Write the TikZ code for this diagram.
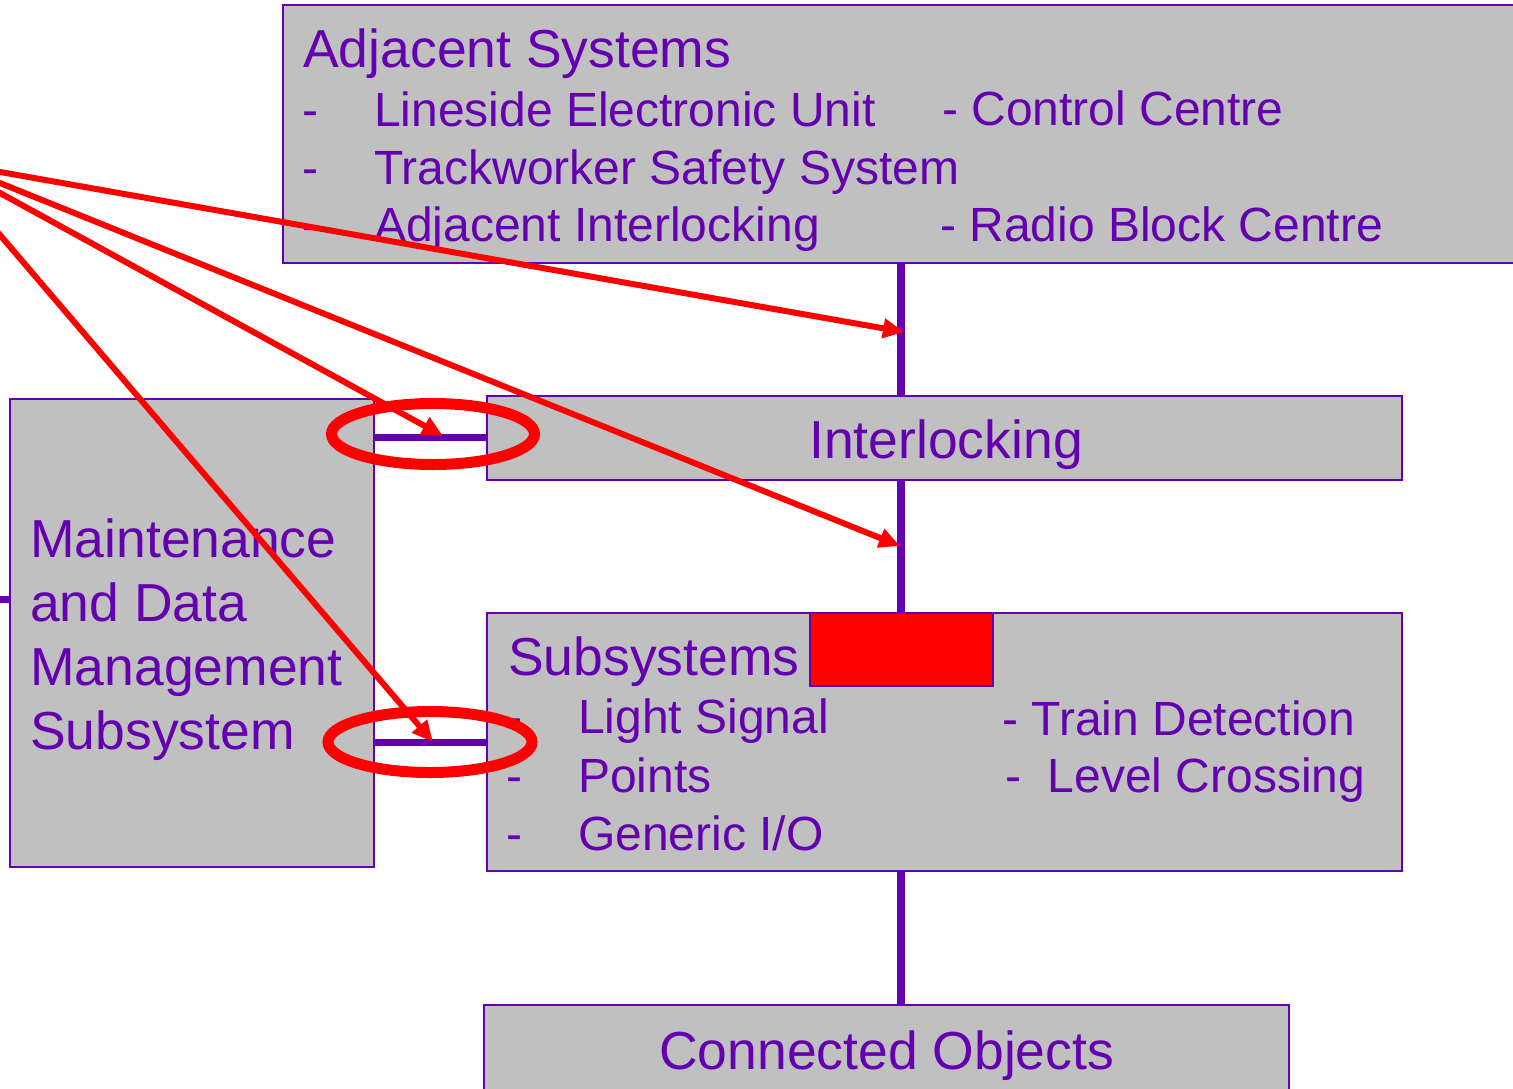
\documentclass[tikz,border=0pt]{standalone}
\usepackage{fontspec}
\setmainfont{Liberation Sans}
\usetikzlibrary{arrows.meta,shapes.geometric}
\definecolor{ink}{RGB}{100,0,175}
\definecolor{panel}{RGB}{192,192,192}
\definecolor{alert}{RGB}{255,0,0}
\begin{document}
\begin{tikzpicture}[x=1pt,y=-1pt,
  box/.style={draw=ink, fill=panel, line width=2.5pt, rectangle, inner sep=0pt},
  title/.style={anchor=base west, inner sep=0pt, text=ink, font=\fontsize{53.5}{64}\selectfont},
  item/.style={anchor=base west, inner sep=0pt, text=ink, font=\fontsize{48}{58}\selectfont},
  trunk/.style={draw=ink, line width=8pt},
  link/.style={draw=ink, line width=7pt},
  ring/.style={draw=alert, line width=11pt, ellipse, inner sep=0pt},
  pointer/.style={draw=alert, line width=6pt, -{Triangle[length=21pt,width=19pt]}}
]
\clip (0,0) rectangle (1513,1088);

% boxes
\node[box, minimum width=1247pt, minimum height=258pt] (adj)   at (906.5,134) {};
\node[box, minimum width=915pt,  minimum height=84pt]  (inter) at (944.5,438) {};
\node[box, minimum width=364pt,  minimum height=468pt] (maint) at (192,633) {};
\node[box, minimum width=915pt,  minimum height=258pt] (subs)  at (944.5,742) {};
\node[box, minimum width=805pt,  minimum height=100pt] (conn)  at (886.5,1055) {};

% adjacent systems
\node[title] (adjT) at (303,67) {Adjacent Systems};
\node[item] (adjD1) at (302,126) {-};
\node[item] (adjD2) at (302,184) {-};
\node[item] (adjD3) at (302,241) {-};
\node[item] (adjA) at (374,126) {Lineside Electronic Unit};
\node[item] (adjB) at (374,184) {Trackworker Safety System};
\node[item] (adjC) at (374,241) {Adjacent Interlocking};
\node[item] (adjE) at (942,125) {- Control Centre};
\node[item] (adjF) at (940,241) {- Radio Block Centre};

% interlocking
\node[title] (interT) at (809,458) {Interlocking};

% maintenance
\node[title] (mT1) at (30,557) {Maintenance};
\node[title] (mT2) at (30,621) {and Data};
\node[title] (mT3) at (30,685) {Management};
\node[title] (mT4) at (30,749) {Subsystem};

% subsystems
\node[title] (subT) at (508,675) {Subsystems};
\node[item] (subD1) at (506,733) {-};
\node[item] (subD2) at (506,792) {-};
\node[item] (subD3) at (506,850) {-};
\node[item] (subA) at (578,733) {Light Signal};
\node[item] (subB) at (578,792) {Points};
\node[item] (subC) at (578,850) {Generic I/O};
\node[item] (subE) at (1002,735) {- Train Detection};
\node[item] (subF) at (1005,792) {-\ \ Level Crossing};

% connected objects
\node[title] (connT) at (659,1069) {Connected Objects};

% vertical trunk
\coordinate (tx) at (901,0);
\draw[trunk] (adj.south -| tx) -- (inter.north -| tx);
\draw[trunk] (inter.south -| tx) -- (subs.north -| tx);
\draw[trunk] (subs.south -| tx) -- (conn.north -| tx);

% maintenance links
\coordinate (ly1) at (0,437);
\coordinate (ly2) at (0,742);
\coordinate (stub) at (-5,599);
\draw[link] (maint.east |- ly1) -- (inter.west |- ly1);
\draw[link] (maint.east |- ly2) -- (subs.west |- ly2);
\draw[link] (stub) -- (maint.west |- stub);

% highlight block
\node[draw=ink, fill=alert, line width=2.5pt, inner sep=0pt,
      minimum width=183pt, minimum height=73pt] (flag) at (901.5,649.5) {};

% rings
\node[ring, minimum width=203pt, minimum height=61pt] (ring1) at (433,434) {};
\node[ring, minimum width=204pt, minimum height=61pt] (ring2) at (430,742) {};

% pointers
\coordinate (s1) at (-10,170.2);
\coordinate (s2) at (-10,179);
\coordinate (s3) at (-10,187.5);
\coordinate (s4) at (-10,223.3);
\coordinate (t1) at (904,332);
\coordinate (t2) at (900,546);
\coordinate (t3) at (443,436);
\coordinate (t4) at (433,742);
\draw[pointer] (s1) -- (t1);
\draw[pointer] (s2) -- (t2);
\draw[pointer] (s3) -- (t3);
\draw[pointer] (s4) -- (t4);
\end{tikzpicture}
\end{document}
